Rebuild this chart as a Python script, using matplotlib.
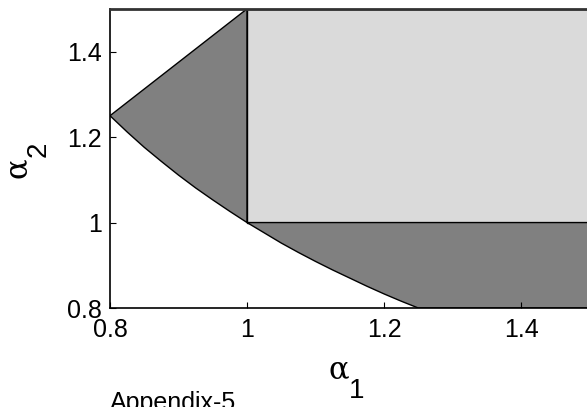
import matplotlib
matplotlib.use("Agg")
import matplotlib.pyplot as plt

plt.rcParams['font.family'] = ['Liberation Sans', 'DejaVu Sans']

# boundary curve alpha_2 vs alpha_1
curve_a1 = [0.8, 0.825, 0.85, 0.875, 0.9, 0.925, 0.95, 0.975, 1.0,
            1.025, 1.05, 1.075, 1.1, 1.125, 1.15, 1.175, 1.2, 1.225, 1.25]
curve_a2 = [1.25, 1.212, 1.176, 1.143, 1.111, 1.081, 1.053, 1.026, 1.0,
            0.976, 0.952, 0.930, 0.909, 0.889, 0.870, 0.851, 0.833, 0.816, 0.8]

# corners of the shaded regions
upper_tip = (1.0, 1.5)
light_box_x = [1.0, 1.5, 1.5, 1.0]
light_box_y = [1.0, 1.0, 1.5, 1.5]
lower_corner_x = [1.5, 1.5]
lower_corner_y = [0.8, 1.0]

xticks = [0.8, 1.0, 1.2, 1.4]
xtick_labels = ["0.8", "1", "1.2", "1.4"]
yticks = [0.8, 1.0, 1.2, 1.4]
ytick_labels = ["0.8", "1", "1.2", "1.4"]

dark = "#808080"
light = "#dadada"

fig = plt.figure(figsize=(5.87, 4.07), dpi=100)
ax = fig.add_axes([0.1874, 0.2432, 0.817, 0.735])

# left wedge: curve from 0.8 up to 1, then straight up and back to the start
n1 = curve_a1.index(1.0)
wx = curve_a1[:n1 + 1] + [upper_tip[0]]
wy = curve_a2[:n1 + 1] + [upper_tip[1]]
ax.fill(wx, wy, facecolor=dark, edgecolor="black", lw=1)

# light square
ax.fill(light_box_x, light_box_y, facecolor=light, edgecolor="black", lw=1)

# lower band between curve and alpha_2 = 1
bx = curve_a1[n1:] + lower_corner_x
by = curve_a2[n1:] + lower_corner_y
ax.fill(bx, by, facecolor=dark, edgecolor="black", lw=1)

ax.set_xlim(0.8, 1.5)
ax.set_ylim(0.8, 1.5)
ax.set_xticks(xticks)
ax.set_xticklabels(xtick_labels)
ax.set_yticks(yticks)
ax.set_yticklabels(ytick_labels)
ax.tick_params(direction="in", length=4, width=0.8, labelsize=18)
ax.tick_params(axis="x", pad=7)
ax.tick_params(axis="y", pad=6)
for s in ax.spines.values():
    s.set_linewidth(1.2)
ax.spines["top"].set_linewidth(2)
ax.spines["top"].set_color("#333333")

# axis labels with full-size subscripts
greek = ['DejaVu Serif']
fig.text(329 / 587, 1 - 378 / 407, "α", fontsize=22, family=greek, ha="left", va="baseline")
fig.text(349 / 587, 1 - 398 / 407, "1", fontsize=20, ha="left", va="baseline")
fig.text(33 / 587, 1 - 178 / 407, "α", fontsize=22, family=greek, rotation=90, ha="right", va="bottom")
fig.text(52 / 587, 1 - 157 / 407, "2", fontsize=20, rotation=90, ha="right", va="bottom")

fig.text(110 / 587, 1 - 410 / 407, "Appendix-5", fontsize=18, ha="left", va="baseline")

fig.savefig("out.png", dpi=100)
